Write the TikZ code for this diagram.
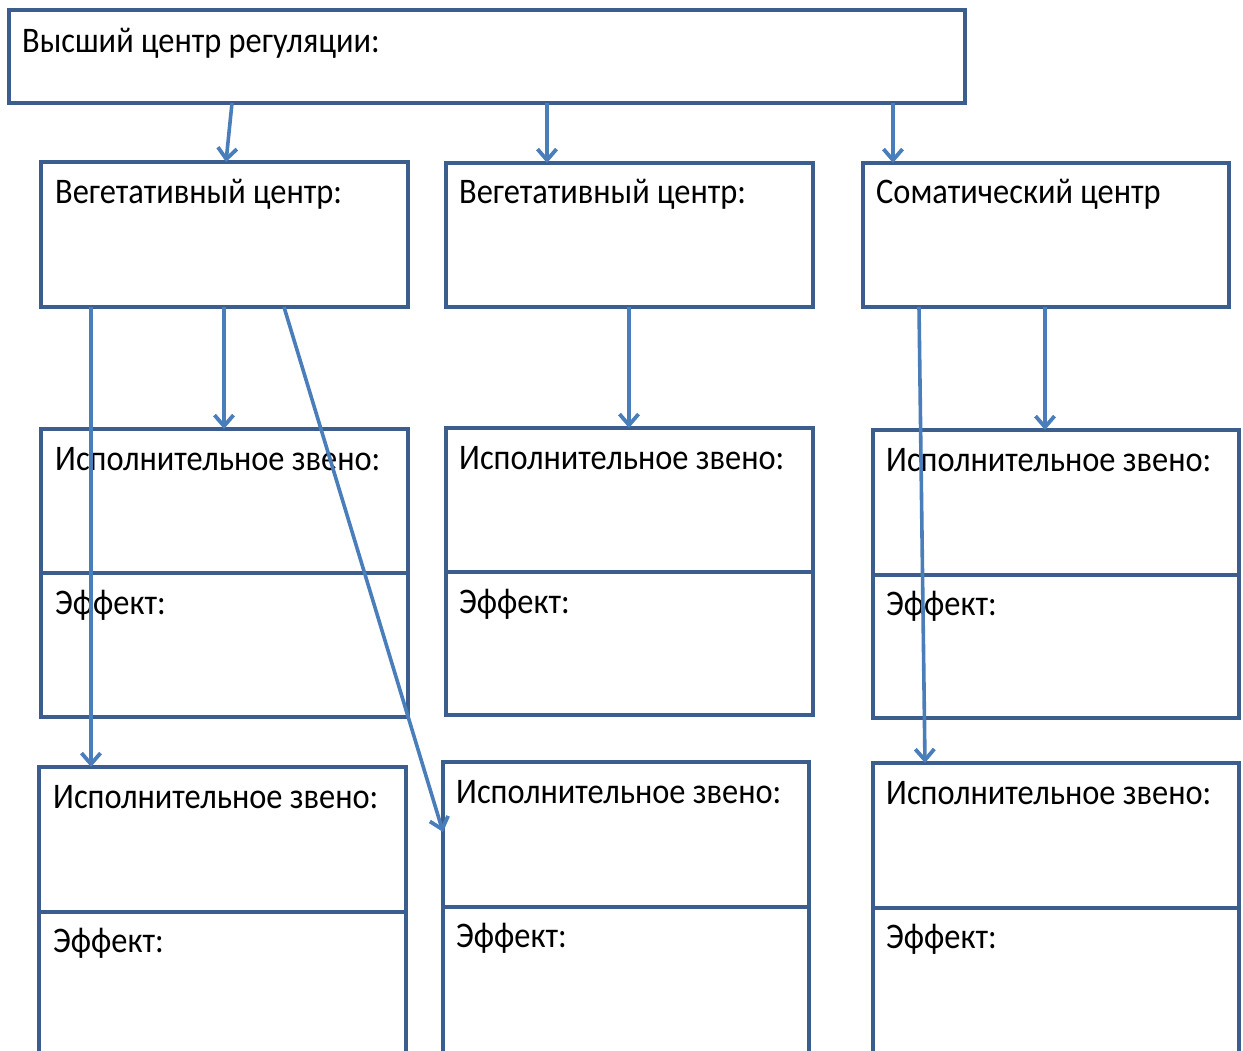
\documentclass[tikz,border=0pt]{standalone}
\usepackage{fontspec}
\setmainfont{Carlito}
\usetikzlibrary{arrows.meta}
\definecolor{boxc}{HTML}{3B5E8E}
\definecolor{arrc}{HTML}{4A7EBB}
\newcommand{\nrw}[1]{\scalebox{0.9}[1]{#1}}
\begin{document}
\begin{tikzpicture}[x=1pt,y=-1pt,
  box/.style={draw=boxc,line width=4pt,rectangle,anchor=north west,inner sep=0pt,outer sep=0pt},
  lbl/.style={anchor=base west,inner sep=0pt,font=\fontsize{36}{40}\selectfont},
  arr/.style={draw=arrc,line width=3.6pt,-{Straight Barb[length=11pt,width=19pt,line width=3.8pt]}}]
\clip (0,0) rectangle (1243,1051);
\fill[white] (0,0) rectangle (1243,1051);
% top
\node[box,minimum width=956pt,minimum height=93pt] (top) at (9,10) {};
\node[lbl] (ttop) at (22,53) {\nrw{Высший центр регуляции:}};
% row 1
\node[box,minimum width=367pt,minimum height=145pt] (v1) at (41,162) {};
\node[box,minimum width=367pt,minimum height=144pt] (v2) at (446,163) {};
\node[box,minimum width=366pt,minimum height=144pt] (s3) at (863,163) {};
\node[lbl] (tv1) at (55,204) {\nrw{Вегетативный центр:}};
\node[lbl] (tv2) at (459,204) {\nrw{Вегетативный центр:}};
\node[lbl] (ts3) at (876,204) {\nrw{Соматический центр}};
% row 2
\node[box,minimum width=367pt,minimum height=144pt] (e1) at (41,429) {};
\node[box,minimum width=367pt,minimum height=144pt] (f1) at (41,573) {};
\node[box,minimum width=367pt,minimum height=144pt] (e2) at (446,428) {};
\node[box,minimum width=367pt,minimum height=143pt] (f2) at (446,572) {};
\node[box,minimum width=366pt,minimum height=145pt] (e3) at (873,430) {};
\node[box,minimum width=366pt,minimum height=143pt] (f3) at (873,575) {};
\node[lbl] (te1) at (55,470) {\nrw{Исполнительное звено:}};
\node[lbl] (tf1) at (55,614) {\nrw{Эффект:}};
\node[lbl] (te2) at (459,469) {\nrw{Исполнительное звено:}};
\node[lbl] (tf2) at (459,613) {\nrw{Эффект:}};
\node[lbl] (te3) at (886,471) {\nrw{Исполнительное звено:}};
\node[lbl] (tf3) at (886,615) {\nrw{Эффект:}};
% row 3
\node[box,minimum width=367pt,minimum height=145pt] (e4) at (39,767) {};
\node[box,minimum width=367pt,minimum height=160pt] (f4) at (39,912) {};
\node[box,minimum width=366pt,minimum height=145pt] (e5) at (443,762) {};
\node[box,minimum width=366pt,minimum height=160pt] (f5) at (443,907) {};
\node[box,minimum width=366pt,minimum height=145pt] (e6) at (873,763) {};
\node[box,minimum width=366pt,minimum height=160pt] (f6) at (873,908) {};
\node[lbl] (te4) at (53,808) {\nrw{Исполнительное звено:}};
\node[lbl] (tf4) at (53,952) {\nrw{Эффект:}};
\node[lbl] (te5) at (456,803) {\nrw{Исполнительное звено:}};
\node[lbl] (tf5) at (456,947) {\nrw{Эффект:}};
\node[lbl] (te6) at (886,804) {\nrw{Исполнительное звено:}};
\node[lbl] (tf6) at (886,948) {\nrw{Эффект:}};
% arrows
\draw[arr] ([xshift=223pt]top.south west) -- ([xshift=185pt]v1.north west);
\draw[arr] ([xshift=538pt]top.south west) -- ([xshift=101pt]v2.north west);
\draw[arr] ([xshift=884pt]top.south west) -- ([xshift=30pt]s3.north west);
\draw[arr] ([xshift=183pt]v1.south west) -- ([xshift=183pt]e1.north west);
\draw[arr] ([xshift=50pt]v1.south west) -- ([xshift=52pt]e4.north west);
\draw[arr] ([xshift=243pt]v1.south west) -- ([yshift=-70pt]e5.north west);
\draw[arr] ([xshift=183pt]v2.south west) -- ([xshift=183pt]e2.north west);
\draw[arr] ([xshift=182pt]s3.south west) -- ([xshift=172pt]e3.north west);
\draw[arr] ([xshift=56pt]s3.south west) -- ([xshift=52pt]e6.north west);
\end{tikzpicture}
\end{document}
